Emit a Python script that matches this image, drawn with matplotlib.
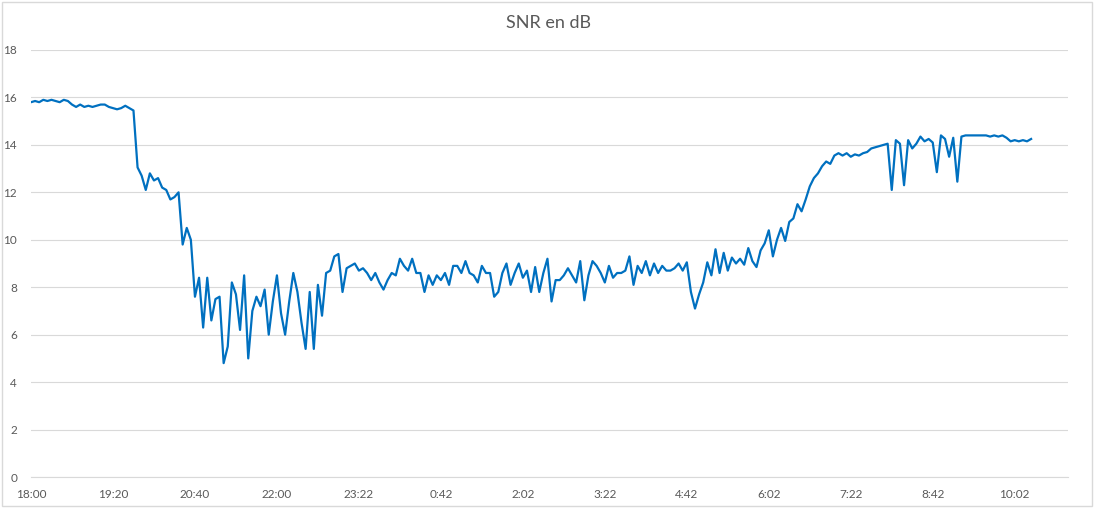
import numpy as np
import matplotlib
matplotlib.use("Agg")
import matplotlib.pyplot as plt
from matplotlib.patches import Rectangle

# SNR readings (dB), one sample every ~4 minutes from 18:00
snr = [
    15.8, 15.85, 15.8, 15.9, 15.85, 15.9, 15.85, 15.8, 15.9, 15.85,
    15.7, 15.6, 15.7, 15.6, 15.65, 15.6, 15.65, 15.7, 15.7, 15.6,
    15.55, 15.5, 15.55, 15.65, 15.55, 15.45, 13.05, 12.7, 12.1, 12.8,
    12.5, 12.6, 12.2, 12.1, 11.7, 11.8, 12.0, 9.8, 10.5, 10.0,
    7.6, 8.4, 6.3, 8.4, 6.6, 7.5, 7.6, 4.8, 5.5, 8.2,
    7.7, 6.2, 8.5, 5.0, 7.0, 7.6, 7.2, 7.9, 6.0, 7.4,
    8.5, 6.9, 6.0, 7.4, 8.6, 7.8, 6.5, 5.4, 7.8, 5.4,
    8.1, 6.8, 8.6, 8.7, 9.3, 9.4, 7.8, 8.8, 8.9, 9.0,
    8.7, 8.8, 8.6, 8.3, 8.6, 8.2, 7.9, 8.3, 8.6, 8.5,
    9.2, 8.9, 8.7, 9.2, 8.6, 8.6, 7.8, 8.5, 8.1, 8.5,
    8.3, 8.6, 8.1, 8.9, 8.9, 8.6, 9.1, 8.6, 8.5, 8.2,
    8.9, 8.6, 8.6, 7.6, 7.8, 8.6, 9.0, 8.1, 8.6, 9.0,
    8.4, 8.7, 7.8, 8.85, 7.8, 8.6, 9.2, 7.4, 8.3, 8.3,
    8.5, 8.8, 8.5, 8.2, 9.1, 7.45, 8.5, 9.1, 8.9, 8.6,
    8.2, 8.9, 8.4, 8.6, 8.6, 8.7, 9.3, 8.1, 8.9, 8.6,
    9.1, 8.5, 9.0, 8.6, 8.9, 8.7, 8.7, 8.8, 9.0, 8.7,
    9.05, 7.8, 7.1, 7.7, 8.2, 9.05, 8.5, 9.6, 8.6, 9.45,
    8.7, 9.25, 9.0, 9.2, 8.95, 9.65, 9.1, 8.85, 9.55, 9.85,
    10.4, 9.3, 10.0, 10.5, 9.95, 10.75, 10.9, 11.5, 11.2, 11.7,
    12.25, 12.6, 12.8, 13.1, 13.3, 13.2, 13.55, 13.65, 13.55, 13.65,
    13.5, 13.6, 13.55, 13.65, 13.7, 13.85, 13.9, 13.95, 14.0, 14.05,
    12.1, 14.2, 14.05, 12.3, 14.2, 13.85, 14.05, 14.35, 14.15, 14.25,
    14.1, 12.85, 14.4, 14.25, 13.5, 14.3, 12.45, 14.35, 14.4, 14.4,
    14.4, 14.4, 14.4, 14.4, 14.35, 14.4, 14.35, 14.4, 14.3, 14.15,
    14.2, 14.15, 14.2, 14.15, 14.25,
]

tick_labels = ["18:00", "19:20", "20:40", "22:00", "23:22", "0:42", "2:02",
               "3:22", "4:42", "6:02", "7:22", "8:42", "10:02"]
tick_every = 20

grey = "#595959"
grid_c = "#d9d9d9"

plt.rcParams["font.family"] = ["Lato", "DejaVu Sans"]

fig = plt.figure(figsize=(10.96, 5.08), dpi=100)
ax = fig.add_axes([31 / 1096, 31 / 508, 1037 / 1096, 427 / 508])

x = np.arange(len(snr))
ax.plot(x, snr, color="#0070C0", linewidth=1.6, solid_joinstyle="round")

ax.set_ylim(0, 18)
ax.set_yticks(np.arange(0, 19, 2))
ax.set_xlim(0, 253)
ax.set_xticks(np.arange(len(tick_labels)) * tick_every)
ax.set_xticklabels(tick_labels)

ax.grid(axis="y", color=grid_c, linewidth=0.8)
ax.set_axisbelow(True)
for s in ["top", "right", "left"]:
    ax.spines[s].set_visible(False)
ax.spines["bottom"].set_color(grid_c)
ax.spines["bottom"].set_linewidth(0.8)
ax.tick_params(axis="both", length=0, labelsize=8.5, labelcolor=grey)
ax.tick_params(axis="y", pad=10)
ax.tick_params(axis="x", pad=9)

fig.text(0.5, 1 - 23 / 508, "SNR en dB", ha="center", va="center",
         fontsize=13, color=grey)

fig.patches.append(Rectangle((0.002, 0.003), 0.994, 0.994, transform=fig.transFigure,
                             fill=False, edgecolor=grid_c, linewidth=1))

fig.savefig("out.png", dpi=100)
